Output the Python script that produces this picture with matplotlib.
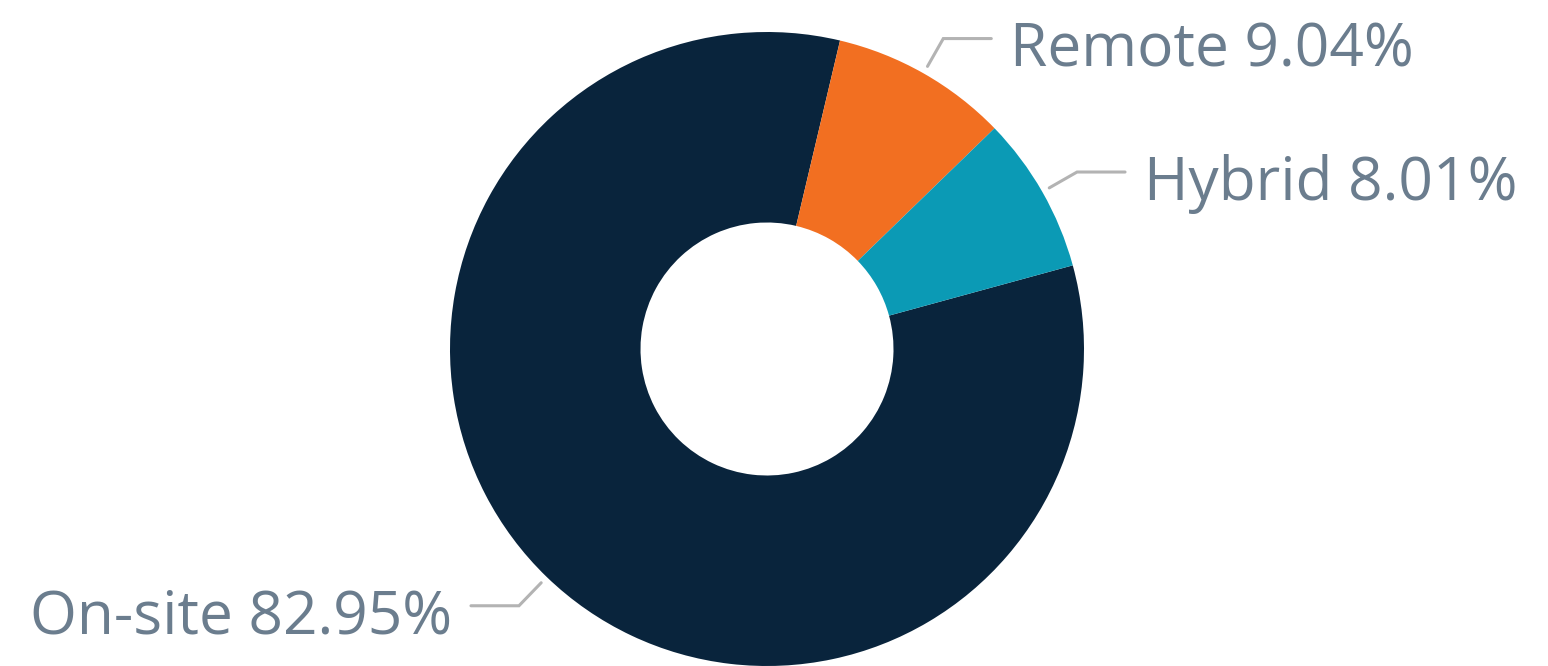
import numpy as np
import matplotlib
matplotlib.use("Agg")
import matplotlib.pyplot as plt

labels = ["On-site", "Remote", "Hybrid"]
values = [82.95, 9.04, 8.01]
colors = ["#09243c", "#f26f21", "#0b9ab5"]

W, H = 1548, 666
fig = plt.figure(figsize=(W / 100, H / 100), dpi=100)
ax = fig.add_axes([0, 0, 1, 1])
ax.set_xlim(0, W)
ax.set_ylim(0, H)
ax.set_aspect("equal")
ax.axis("off")

cx, cy = 767, H - 349
R, r_in = 317, 126.5
start = 15.3  # degrees, counter-clockwise from +x
wedges, _ = ax.pie(values, colors=colors, startangle=start, counterclock=False,
                   radius=R, center=(cx, cy), frame=True,
                   wedgeprops=dict(width=R - r_in, linewidth=0))
ax.set_xlim(0, W)
ax.set_ylim(0, H)
ax.axis("off")

txt_color = "#6b7d8e"
line_color = "#b3b3b3"
for w, lab, v in zip(wedges, labels, values):
    mid = np.deg2rad((w.theta1 + w.theta2) / 2)
    dx, dy = np.cos(mid), np.sin(mid)
    p0 = (cx + 325 * dx, cy + 325 * dy)
    p1 = (cx + 357 * dx, cy + 357 * dy)
    sgn = 1 if dx > 0 else -1
    p2 = (p1[0] + sgn * 48, p1[1])
    ax.plot([p0[0], p1[0], p2[0]], [p0[1], p1[1], p2[1]], color=line_color,
            lw=2.2, solid_capstyle="round", solid_joinstyle="miter")
    ax.text(p2[0] + sgn * 19, p2[1] - 28, f"{lab} {v:.2f}%", color=txt_color,
            fontsize=43.5, family=["Open Sans", "DejaVu Sans"],
            ha="left" if sgn > 0 else "right", va="baseline")

fig.savefig("out.png", dpi=100)
